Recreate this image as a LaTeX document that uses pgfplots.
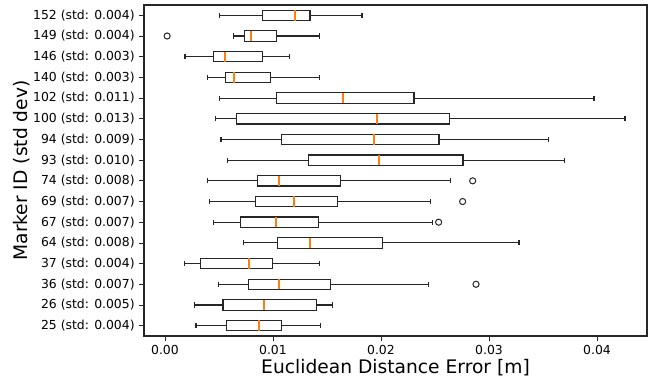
\documentclass[border=0pt]{standalone}
\usepackage{fontspec}
\setmainfont{DejaVu Sans}
\usepackage{pgfplots}
\pgfplotsset{compat=1.18}
\usepgfplotslibrary{statistics}
\definecolor{mplorange}{HTML}{FF7F0E}
\pgfplotsset{
  mybox/.style={
    boxplot/draw direction=x,
    draw=black!85, line width=0.85pt, fill=white, solid,
    mark=o, mark size=2.3pt,
    mark options={draw=black!85, fill=none, line width=0.75pt, solid},
    boxplot/box extend=0.5,
    boxplot/whisker extend=0.25,
    boxplot/every median/.style={draw=mplorange, line width=1.5pt},
  }
}
\begin{document}
\begin{tikzpicture}
\path[use as bounding box] (-108pt,-33.75pt) rectangle (384.75pt,252pt);
\begin{axis}[
  at={(0,0)}, anchor=south west,
  scale only axis, width=377.25pt, height=248.25pt,
  xmin=-0.00194, xmax=0.04463,
  ymin=0.5, ymax=16.5,
  xtick={0,0.01,0.02,0.03,0.04},
  scaled x ticks=false,
  xticklabel style={/pgf/number format/.cd, fixed, fixed zerofill, precision=2, assume math mode=true},
  ytick={1,...,16},
  yticklabels={25 (std: 0.004),26 (std: 0.005),36 (std: 0.007),37 (std: 0.004),64 (std: 0.008),67 (std: 0.007),69 (std: 0.007),74 (std: 0.008),93 (std: 0.010),94 (std: 0.009),100 (std: 0.013),102 (std: 0.011),140 (std: 0.003),146 (std: 0.003),149 (std: 0.004),152 (std: 0.004)},
  tick label style={font=\fontsize{9.3}{11}\selectfont, black},
  tick align=outside, xtick pos=bottom, ytick pos=left,
  major tick length=3.5pt,
  tick style={black!85, line width=0.6pt},
  axis line style={black!85, line width=0.8pt},
  xlabel={Euclidean Distance Error [m]},
  ylabel={Marker ID (std dev)},
  label style={font=\fontsize{14}{16}\selectfont},
  xlabel style={at={(axis description cs:0.5,-0.095)}, anchor=center},
  ylabel style={at={(axis description cs:-0.2425,0.5)}, anchor=center, rotate=0},
]
% 25
\addplot[mybox, boxplot prepared={draw position=1, lower whisker=0.00287, lower quartile=0.00568, median=0.0087, upper quartile=0.01077, upper whisker=0.01444}] coordinates {};
% 26
\addplot[mybox, boxplot prepared={draw position=2, lower whisker=0.00275, lower quartile=0.00537, median=0.00917, upper quartile=0.01407, upper whisker=0.01552}] coordinates {};
% 36
\addplot[mybox, boxplot prepared={draw position=3, lower whisker=0.00494, lower quartile=0.00772, median=0.01056, upper quartile=0.01534, upper whisker=0.02441}] coordinates {(0.0288,0.0288)};
% 37
\addplot[mybox, boxplot prepared={draw position=4, lower whisker=0.00179, lower quartile=0.0033, median=0.00778, upper quartile=0.00997, upper whisker=0.01432}] coordinates {};
% 64
\addplot[mybox, boxplot prepared={draw position=5, lower whisker=0.00731, lower quartile=0.0104, median=0.01346, upper quartile=0.02012, upper whisker=0.03278}] coordinates {};
% 67
\addplot[mybox, boxplot prepared={draw position=6, lower whisker=0.00448, lower quartile=0.00701, median=0.01028, upper quartile=0.0142, upper whisker=0.02475}] coordinates {(0.02534,0.02534)};
% 69
\addplot[mybox, boxplot prepared={draw position=7, lower whisker=0.00414, lower quartile=0.0084, median=0.01194, upper quartile=0.01596, upper whisker=0.02457}] coordinates {(0.02756,0.02756)};
% 74
\addplot[mybox, boxplot prepared={draw position=8, lower whisker=0.00392, lower quartile=0.00858, median=0.01056, upper quartile=0.01623, upper whisker=0.02642}] coordinates {(0.02849,0.02849)};
% 93
\addplot[mybox, boxplot prepared={draw position=9, lower whisker=0.00577, lower quartile=0.01333, median=0.01978, upper quartile=0.02759, upper whisker=0.03701}] coordinates {};
% 94
\addplot[mybox, boxplot prepared={draw position=10, lower whisker=0.00519, lower quartile=0.01077, median=0.01932, upper quartile=0.02537, upper whisker=0.03553}] coordinates {};
% 100
\addplot[mybox, boxplot prepared={draw position=11, lower whisker=0.00469, lower quartile=0.00664, median=0.01966, upper quartile=0.02633, upper whisker=0.04259}] coordinates {};
% 102
\addplot[mybox, boxplot prepared={draw position=12, lower whisker=0.00503, lower quartile=0.01031, median=0.01648, upper quartile=0.02306, upper whisker=0.03972}] coordinates {};
% 140
\addplot[mybox, boxplot prepared={draw position=13, lower whisker=0.00392, lower quartile=0.00562, median=0.00636, upper quartile=0.00978, upper whisker=0.01432}] coordinates {};
% 146
\addplot[mybox, boxplot prepared={draw position=14, lower whisker=0.00185, lower quartile=0.00451, median=0.00556, upper quartile=0.00907, upper whisker=0.01154}] coordinates {};
% 149
\addplot[mybox, boxplot prepared={draw position=15, lower whisker=0.00633, lower quartile=0.00735, median=0.00793, upper quartile=0.01034, upper whisker=0.01432}] coordinates {(0.0002,0.0002)};
% 152
\addplot[mybox, boxplot prepared={draw position=16, lower whisker=0.00503, lower quartile=0.00904, median=0.01207, upper quartile=0.01343, upper whisker=0.01824}] coordinates {};
\end{axis}
\end{tikzpicture}
\end{document}
